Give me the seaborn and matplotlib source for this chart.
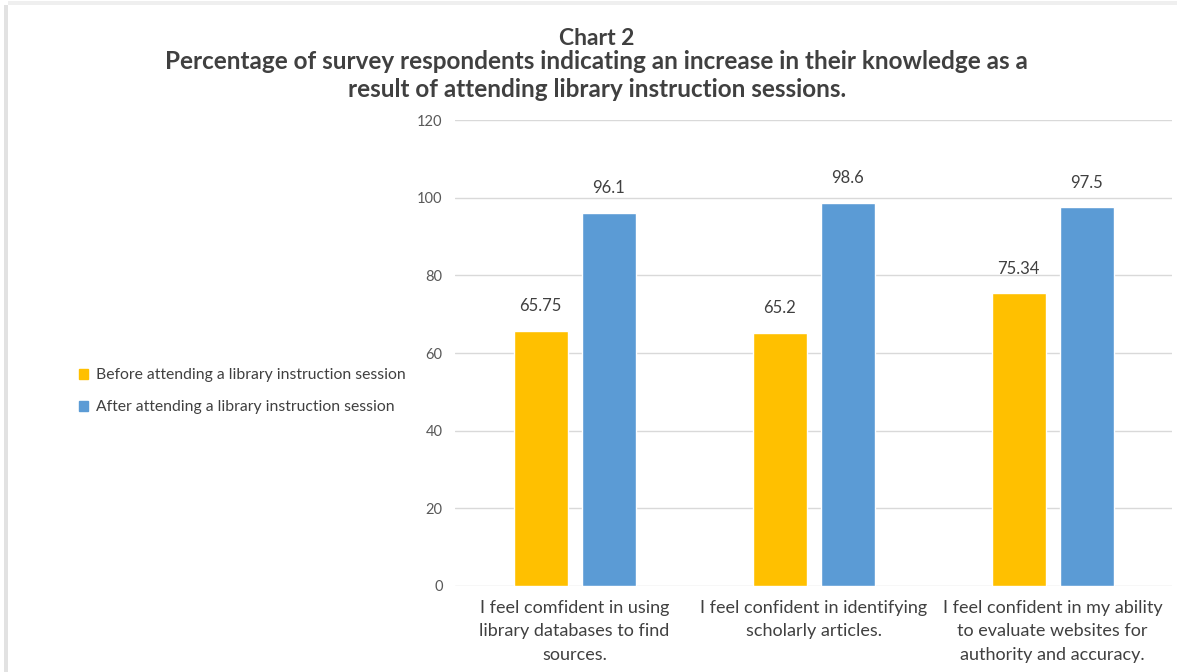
import matplotlib
matplotlib.use("Agg")
import matplotlib.pyplot as plt
import seaborn as sns
import pandas as pd
from matplotlib.patches import Patch, Rectangle

categories = [
    "I feel comfident in using\nlibrary databases to find\nsources.",
    "I feel confident in identifying\nscholarly articles.",
    "I feel confident in my ability\nto evaluate websites for\nauthority and accuracy.",
]
series_names = ["Before attending a library instruction session",
                "After attending a library instruction session"]
before_vals = [65.75, 65.2, 75.34]
after_vals = [96.1, 98.6, 97.5]
yticks = [0, 20, 40, 60, 80, 100, 120]
colors = ["#FFC000", "#5B9BD5"]

sns.set_theme(style="white")
plt.rcParams['font.family'] = ['Lato', 'DejaVu Sans']

df = pd.DataFrame({
    "category": categories * 2,
    "series": [series_names[0]] * 3 + [series_names[1]] * 3,
    "value": before_vals + after_vals,
})

fig = plt.figure(figsize=(11.77, 6.72), dpi=100)

# subtle screenshot shadow at left and top edges
fig.patches.append(Rectangle((0.003, 0), 0.004, 0.993, transform=fig.transFigure,
                             facecolor="#E2E2E2", edgecolor="none"))
fig.patches.append(Rectangle((0.007, 0.993), 0.993, 0.006, transform=fig.transFigure,
                             facecolor="#EFEFEF", edgecolor="none"))

ax = fig.add_axes([0.3866, 0.128, 0.6092, 0.6934])
sns.barplot(data=df, x="category", y="value", hue="series", palette=colors,
            width=0.569, gap=0.206, ax=ax, legend=False, saturation=1)

ax.set_ylim(0, 120)
ax.set_xlim(-0.5, 2.5)
ax.set_yticks(yticks)
ax.set_yticklabels([str(t) for t in yticks], fontsize=10.5, color="#595959")
ax.tick_params(axis="x", labelsize=13, colors="#404040", length=0, pad=10)
ax.tick_params(axis="y", length=0, pad=9)
for lbl in ax.get_xticklabels():
    lbl.set_linespacing(1.58)
ax.set_xlabel("")
ax.set_ylabel("")
ax.yaxis.grid(True, color="#D9D9D9", linewidth=1)
ax.set_axisbelow(True)
for s in ["top", "right", "left", "bottom"]:
    ax.spines[s].set_visible(False)

for cont in ax.containers:
    labels = [f"{bar.get_height():g}" for bar in cont]
    ax.bar_label(cont, labels=labels, padding=12, fontsize=12, color="#404040")

handles = [Patch(facecolor=c, edgecolor=c) for c in colors]
fig.legend(handles, series_names, loc="center left", bbox_to_anchor=(0.055, 0.418),
           frameon=False, fontsize=11.3, labelcolor="#404040",
           handlelength=0.6, handleheight=0.6, handletextpad=0.5, labelspacing=1.15)

fig.text(0.507, 0.943, "Chart 2", ha="center", va="center", fontsize=16.5,
         fontweight="bold", color="#404040")
fig.text(0.507, 0.888, "Percentage of survey respondents indicating an increase in their knowledge as a\nresult of attending library instruction sessions.",
         ha="center", va="center", fontsize=17.5, fontweight="bold", color="#404040",
         linespacing=1.28)

fig.savefig("out.png", dpi=100, facecolor="white")
